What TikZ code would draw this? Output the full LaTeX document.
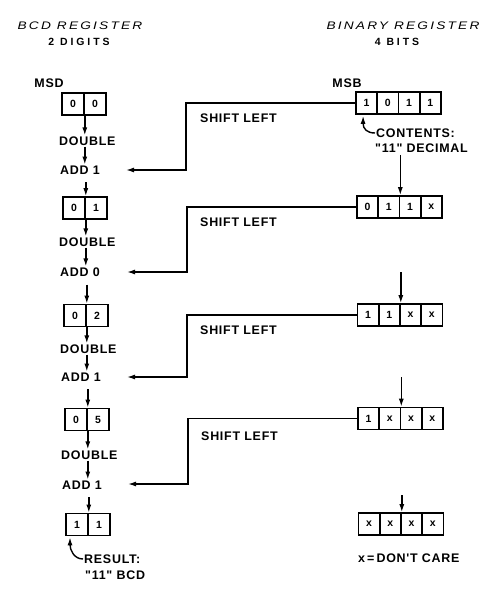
\documentclass[tikz,border=0pt]{standalone}
\usepackage{fontspec}
\usepackage{graphicx}
\setmainfont{Liberation Sans}
\newfontfamily\lblfont[LetterSpace=6]{Liberation Sans}
\newfontfamily\ttlfont[LetterSpace=16]{Liberation Sans}
\newfontfamily\subfont[LetterSpace=28]{Liberation Sans}
\usetikzlibrary{arrows.meta}
\newcommand\widen[1]{\scalebox{1.25}[1]{#1}}
\tikzset{
  cellbox/.style={draw, line width=1.6bp, minimum height=22bp, inner sep=0pt,
    font=\bfseries\fontsize{10.5}{10.5}\selectfont},
  bcdcell/.style={cellbox, minimum width=22bp},
  bincell/.style={cellbox, minimum width=21.25bp},
  lbl/.style={font=\lblfont\bfseries\fontsize{12.5}{12.5}\selectfont, inner sep=1bp},
  ttl/.style={font=\ttlfont\itshape\fontsize{11}{11}\selectfont, inner sep=0pt},
  subttl/.style={font=\subfont\bfseries\fontsize{10.5}{10.5}\selectfont, inner sep=0pt},
  arr/.style={line width=1.4bp, -{Latex[length=8bp,width=5bp]}},
}
\newcommand\bcdreg[5]{%
  \node[bcdcell] (#1a) at ({#2-11},#3) {#4};
  \node[bcdcell] (#1b) at ({#2+11},#3) {#5};}
\newcommand\binreg[7]{%
  \node[bincell] (#1a) at ({#2-31.875},#3) {#4};
  \node[bincell] (#1b) at ({#2-10.625},#3) {#5};
  \node[bincell] (#1c) at ({#2+10.625},#3) {#6};
  \node[bincell] (#1d) at ({#2+31.875},#3) {#7};}
\begin{document}
\begin{tikzpicture}[x=1bp,y=-1bp]
\fill[white] (0,0) rectangle (504,600);
\useasboundingbox (0,0) rectangle (504,600);

% titles
\node[ttl] (t1) at (80,25.5) {\widen{BCD REGISTER}};
\node[subttl] (s1) at (79,41.5) {2 DIGITS};
\node[ttl] (t2) at (403,25.5) {\widen{BINARY REGISTER}};
\node[subttl] (s2) at (397,41.5) {4 BITS};

\node[lbl] (msd) at (49,83) {MSD};
\node[lbl] (msb) at (347,83) {MSB};

% BCD registers
\bcdreg{m1}{84}{104}{0}{0}
\bcdreg{m2}{85}{208}{0}{1}
\bcdreg{m3}{86}{315.5}{0}{2}
\bcdreg{m4}{87}{419.5}{0}{5}
\bcdreg{m5}{88}{524.5}{1}{1}

% binary registers
\binreg{n1}{398.5}{103}{1}{0}{1}{1}
\binreg{n2}{399.5}{207}{0}{1}{1}{x}
\binreg{n3}{400}{315}{1}{1}{x}{x}
\binreg{n4}{400.5}{418.5}{1}{x}{x}{x}
\binreg{n5}{401}{524}{x}{x}{x}{x}

% BCD steps
\node[lbl, anchor=west] (d1) at (58,141) {DOUBLE};
\node[lbl, anchor=west] (a1) at (59,170) {ADD 1};
\node[lbl, anchor=west] (d2) at (58,242) {DOUBLE};
\node[lbl, anchor=west] (a2) at (59,272) {ADD 0};
\node[lbl, anchor=west] (d3) at (59,349) {DOUBLE};
\node[lbl, anchor=west] (a3) at (60,377) {ADD 1};
\node[lbl, anchor=west] (d4) at (60,455) {DOUBLE};
\node[lbl, anchor=west] (a4) at (61,485) {ADD 1};

\foreach \i/\j in {1/2,2/3,3/4,4/5}{
  \draw[arr] (m\i a.south east) -- (m\i a.south east |- d\i.north);
  \draw[arr] (m\i a.south east |- d\i.south) -- (m\i a.south east |- a\i.north);
  \draw[arr, shorten <=7bp] (m\j a.north east |- a\i.south) -- (m\j a.north east);
}

% shift-left connectors
\coordinate (e1) at (126,170);
\coordinate (e2) at (127,272);
\coordinate (e3) at (127,377);
\coordinate (e4) at (128,484);
\foreach \i in {1,2,3,4}{
  \draw[arr] (n\i a.west) -| ([xshift=60bp]e\i) -- (e\i);
}
\node[lbl, anchor=west] (sl1) at (199,118) {SHIFT LEFT};
\node[lbl, anchor=west] (sl2) at (199,222) {SHIFT LEFT};
\node[lbl, anchor=west] (sl3) at (199,330) {SHIFT LEFT};
\node[lbl, anchor=west] (sl4) at (200,436) {SHIFT LEFT};

% binary vertical arrows
\coordinate (v1) at (399,155);
\coordinate (v2) at (400,272);
\coordinate (v3) at (400,377);
\coordinate (v4) at (401,495);
\draw[arr] (n2b.north east |- v1) -- (n2b.north east);
\draw[arr] (n3b.north east |- v2) -- (n3b.north east);
\draw[arr] (n4b.north east |- v3) -- (n4b.north east);
\draw[arr] (n5b.north east |- v4) -- (n5b.north east);

% annotations
\node[lbl, anchor=west] (c1) at (375,133) {CONTENTS:};
\node[lbl, anchor=west] (c2) at (374,148) {"11" DECIMAL};
\draw[arr] (c1.west) .. controls (367,133) and (363,129) .. ([xshift=-3.5bp,yshift=-1bp]n1a.south);

\node[lbl, anchor=west] (r1) at (83,559) {RESULT:};
\node[lbl, anchor=west] (r2) at (84,575) {"11" BCD};
\draw[arr] (r1.west) .. controls (74,559) and (70,550) .. ([xshift=-7bp,yshift=-1bp]m5a.south);

\node[lbl, anchor=west] (dc) at (357,558) {x\,=\,DON'T CARE};
\end{tikzpicture}
\end{document}
